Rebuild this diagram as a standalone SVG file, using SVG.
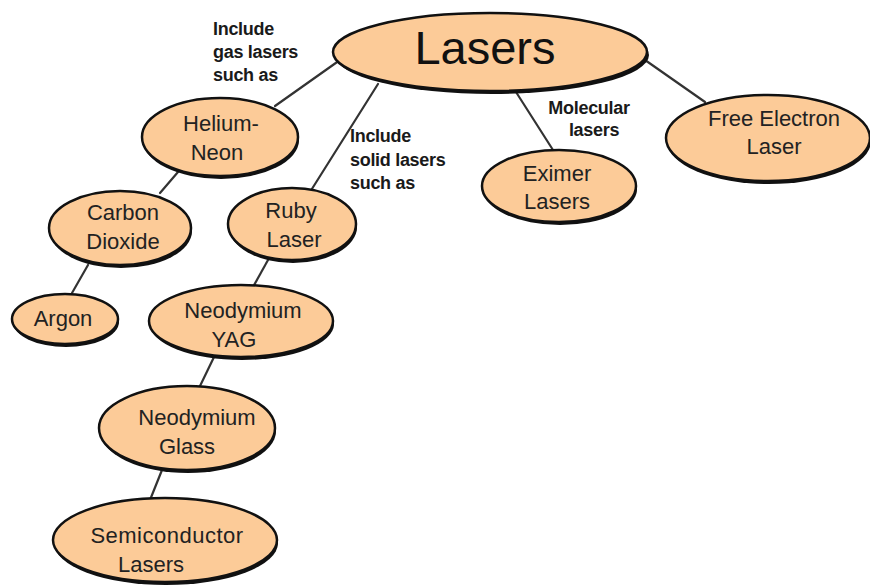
<svg xmlns="http://www.w3.org/2000/svg" width="870" height="587" viewBox="0 0 870 587">
<style>
.bg{fill:#ffffff}
.sh{fill:#111111}
.nd{fill:#FCCB98;stroke:#111111;stroke-width:2.5}
.t{font-family:"Liberation Sans",Arial,sans-serif;font-size:22px;fill:#222222;text-anchor:middle}
.big{font-size:47px;fill:#111111}
.lb{font-family:"Liberation Sans",Arial,sans-serif;font-size:18px;font-weight:bold;fill:#1a1a1a;letter-spacing:-0.3px}
.c{stroke:#333333;stroke-width:2.2;fill:none;stroke-linecap:round}
</style>
<rect class="bg" x="0" y="0" width="870" height="587"/>
<g id="connectors">
<line class="c" x1="340" y1="60" x2="275" y2="106"/>
<line class="c" x1="378" y1="84" x2="310" y2="192"/>
<line class="c" x1="516" y1="92" x2="553" y2="150"/>
<line class="c" x1="645" y1="60" x2="705" y2="102"/>
<line class="c" x1="178" y1="172" x2="160" y2="193"/>
<line class="c" x1="88" y1="265" x2="72" y2="293"/>
<line class="c" x1="268" y1="260" x2="253" y2="287"/>
<line class="c" x1="215" y1="355" x2="200" y2="386"/>
<line class="c" x1="162" y1="470" x2="150" y2="500"/>
</g>
<g id="labels">
<text class="lb" x="213" y="35">Include</text>
<text class="lb" x="213" y="58">gas lasers</text>
<text class="lb" x="213" y="81">such as</text>
<text class="lb" x="350" y="142">Include</text>
<text class="lb" x="350" y="166">solid lasers</text>
<text class="lb" x="350" y="189">such as</text>
<text class="lb" x="589" y="114" text-anchor="middle">Molecular</text>
<text class="lb" x="594" y="136" text-anchor="middle">lasers</text>
</g>
<g id="lasers">
<ellipse class="sh" cx="492" cy="55" rx="157" ry="39"/>
<ellipse class="nd" cx="490" cy="52" rx="157" ry="39"/>
<text class="t big" x="485" y="64">Lasers</text>
</g>
<g id="helium-neon">
<ellipse class="sh" cx="221" cy="140" rx="78" ry="39"/>
<ellipse class="nd" cx="220" cy="137" rx="78" ry="39"/>
<text class="t" x="221" y="131">Helium-</text>
<text class="t" x="217" y="160">Neon</text>
</g>
<g id="carbon-dioxide">
<ellipse class="sh" cx="121" cy="231" rx="71" ry="37"/>
<ellipse class="nd" cx="120" cy="228" rx="71" ry="37"/>
<text class="t" x="123" y="220">Carbon</text>
<text class="t" x="123" y="249">Dioxide</text>
</g>
<g id="argon">
<ellipse class="sh" cx="66" cy="322" rx="53" ry="25"/>
<ellipse class="nd" cx="65" cy="319" rx="53" ry="25"/>
<text class="t" x="63" y="326">Argon</text>
</g>
<g id="ruby-laser">
<ellipse class="sh" cx="293" cy="227" rx="64" ry="36"/>
<ellipse class="nd" cx="292" cy="224" rx="64" ry="36"/>
<text class="t" x="291" y="218">Ruby</text>
<text class="t" x="294" y="247">Laser</text>
</g>
<g id="neodymium-yag">
<ellipse class="sh" cx="242" cy="324" rx="92" ry="36"/>
<ellipse class="nd" cx="241" cy="321" rx="92" ry="36"/>
<text class="t" x="243" y="318">Neodymium</text>
<text class="t" x="234" y="347">YAG</text>
</g>
<g id="neodymium-glass">
<ellipse class="sh" cx="188" cy="431" rx="88" ry="42"/>
<ellipse class="nd" cx="187" cy="428" rx="88" ry="42"/>
<text class="t" x="197" y="425">Neodymium</text>
<text class="t" x="187" y="454">Glass</text>
</g>
<g id="semiconductor-lasers">
<ellipse class="sh" cx="166" cy="543" rx="112" ry="42"/>
<ellipse class="nd" cx="165" cy="540" rx="112" ry="42"/>
<text class="t" x="167" y="543" letter-spacing="0.5">Semiconductor</text>
<text class="t" x="151" y="572">Lasers</text>
</g>
<g id="eximer-lasers">
<ellipse class="sh" cx="560" cy="189" rx="77" ry="36"/>
<ellipse class="nd" cx="559" cy="186" rx="77" ry="36"/>
<text class="t" x="557" y="181">Eximer</text>
<text class="t" x="557" y="209">Lasers</text>
</g>
<g id="free-electron-laser">
<ellipse class="sh" cx="769" cy="141" rx="102" ry="43"/>
<ellipse class="nd" cx="768" cy="138" rx="102" ry="43"/>
<text class="t" x="774" y="126" font-size="23">Free Electron</text>
<text class="t" x="774" y="154">Laser</text>
</g>
</svg>
